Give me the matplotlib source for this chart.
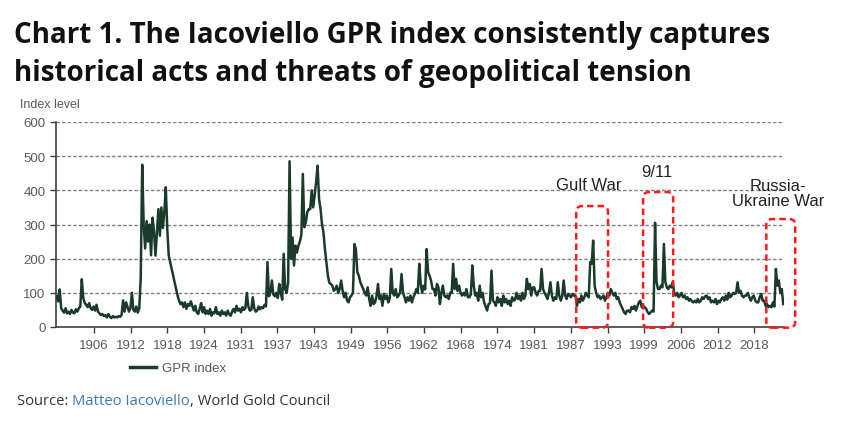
import numpy as np
import matplotlib
matplotlib.use("Agg")
import matplotlib.pyplot as plt
from matplotlib.patches import FancyBboxPatch

# GPR index, quarterly values (1900 Q1 .. 2023 Q2)
gpr_start_year = 1900
gpr_values = [
    90, 75, 110, 55,     # 1900
    48, 42, 55, 40,      # 1901
    45, 38, 50, 42,      # 1902
    40, 52, 45, 55,      # 1903
    60, 140, 85, 70,     # 1904
    65, 58, 70, 55,      # 1905
    50, 60, 48, 65,      # 1906
    45, 40, 35, 38,      # 1907
    32, 35, 28, 38,      # 1908
    30, 26, 32, 28,      # 1909
    30, 28, 32, 30,      # 1910
    35, 78, 45, 72,      # 1911
    60, 45, 55, 100,     # 1912
    50, 45, 60, 42,      # 1913
    55, 145, 475, 300,   # 1914
    230, 310, 250, 300,  # 1915
    210, 320, 280, 209,  # 1916
    277, 345, 267, 350,  # 1917
    290, 336, 409, 287,  # 1918
    209, 190, 170, 150,  # 1919
    131, 111, 92, 77,    # 1920
    67, 72, 58, 72,      # 1921
    53, 67, 62, 75,      # 1922
    62, 48, 62, 43,      # 1923
    38, 53, 70, 43,      # 1924
    58, 38, 48, 38,      # 1925
    53, 33, 43, 40,      # 1926
    58, 38, 43, 33,      # 1927
    48, 38, 43, 33,      # 1928
    48, 38, 33, 45,      # 1929
    53, 43, 62, 48,      # 1930
    53, 43, 58, 50,      # 1931
    55, 100, 60, 48,     # 1932
    50, 87, 55, 45,      # 1933
    48, 60, 52, 58,      # 1934
    55, 65, 60, 190,     # 1935
    90, 100, 136, 95,    # 1936
    90, 100, 85, 126,    # 1937
    100, 80, 214, 110,   # 1938
    100, 130, 485, 200,  # 1939
    262, 180, 238, 218,  # 1940
    238, 250, 270, 448,  # 1941
    292, 306, 336, 345,  # 1942
    345, 400, 350, 385,  # 1943
    424, 472, 375, 346,  # 1944
    300, 277, 228, 190,  # 1945
    150, 129, 126, 121,  # 1946
    106, 111, 121, 100,  # 1947
    111, 136, 106, 87,   # 1948
    100, 77, 72, 87,     # 1949
    92, 100, 243, 228,   # 1950
    160, 150, 131, 121,  # 1951
    111, 100, 92, 116,   # 1952
    82, 62, 92, 67,      # 1953
    72, 90, 126, 82,     # 1954
    92, 62, 97, 82,      # 1955
    92, 72, 85, 170,     # 1956
    100, 92, 111, 87,    # 1957
    92, 100, 155, 100,   # 1958
    87, 72, 87, 77,      # 1959
    92, 72, 87, 97,      # 1960
    111, 100, 185, 126,  # 1961
    100, 121, 110, 228,  # 1962
    160, 150, 136, 111,  # 1963
    111, 92, 126, 116,   # 1964
    67, 100, 121, 92,    # 1965
    87, 92, 82, 100,     # 1966
    100, 185, 111, 141,  # 1967
    106, 121, 100, 92,   # 1968
    100, 92, 111, 87,    # 1969
    87, 95, 180, 121,    # 1970
    92, 100, 77, 121,    # 1971
    87, 100, 72, 60,     # 1972
    48, 67, 70, 165,     # 1973
    77, 72, 62, 87,      # 1974
    72, 82, 62, 92,      # 1975
    72, 82, 67, 77,      # 1976
    62, 87, 77, 80,      # 1977
    100, 82, 92, 77,     # 1978
    100, 82, 92, 141,    # 1979
    111, 126, 92, 116,   # 1980
    116, 100, 92, 106,   # 1981
    106, 170, 111, 100,  # 1982
    92, 82, 100, 131,    # 1983
    92, 77, 87, 82,      # 1984
    131, 92, 77, 90,     # 1985
    136, 92, 82, 97,     # 1986
    92, 87, 97, 92,      # 1987
    92, 62, 82, 72,      # 1988
    92, 77, 87, 100,     # 1989
    92, 87, 190, 185,    # 1990
    253, 121, 100, 87,   # 1991
    92, 82, 87, 92,      # 1992
    77, 87, 100, 92,     # 1993
    111, 100, 92, 100,   # 1994
    82, 87, 72, 62,      # 1995
    53, 43, 38, 48,      # 1996
    48, 43, 58, 53,      # 1997
    62, 48, 60, 72,      # 1998
    77, 58, 62, 58,      # 1999
    53, 43, 38, 43,      # 2000
    48, 45, 305, 131,    # 2001
    111, 111, 121, 116,  # 2002
    243, 131, 116, 111,  # 2003
    121, 116, 131, 100,  # 2004
    92, 100, 87, 92,     # 2005
    100, 87, 92, 82,     # 2006
    87, 77, 82, 75,      # 2007
    72, 77, 72, 82,      # 2008
    72, 77, 87, 82,      # 2009
    90, 92, 82, 87,      # 2010
    72, 77, 72, 82,      # 2011
    67, 77, 72, 82,      # 2012
    87, 77, 92, 80,      # 2013
    100, 87, 92, 100,    # 2014
    97, 100, 131, 100,   # 2015
    106, 92, 87, 92,     # 2016
    92, 100, 87, 77,     # 2017
    87, 92, 77, 72,      # 2018
    72, 87, 97, 77,      # 2019
    77, 62, 67, 58,      # 2020
    62, 58, 72, 60,      # 2021
    170, 121, 136, 100,  # 2022
    111, 67,             # 2023
]

tick_labels = ["1906", "1912", "1918", "1924", "1931", "1937", "1943", "1949",
               "1956", "1962", "1968", "1974", "1981", "1987", "1993", "1999",
               "2006", "2012", "2018"]
y_ticks = [0, 100, 200, 300, 400, 500, 600]

# highlighted events: label, box start, box end, box top
events = ["Gulf War", "9/11", "Russia-\nUkraine War"]
event_x0 = [1988.25, 1999.6, 2020.5]
event_x1 = [1993.65, 2004.7, 2025.4]
event_top = [354, 395, 316]

green = "#1a3b29"
grey_txt = "#595959"

plt.rcParams["font.family"] = ["Liberation Sans", "DejaVu Sans"]

fig = plt.figure(figsize=(8.5, 4.31), dpi=100)
ax = fig.add_axes([56 / 850, 1 - 328 / 431, 728 / 850, 205 / 431])

dates = gpr_start_year + 0.125 + np.arange(len(gpr_values)) * 0.25
ax.plot(dates, gpr_values, color=green, lw=1.8, label="GPR index", zorder=3)

ax.set_xlim(1900, 2023.5)
ax.set_ylim(0, 600)
ax.set_yticks(y_ticks)
ax.set_xticks(np.linspace(1906.45, 2018.45, len(tick_labels)))
ax.set_xticklabels(tick_labels)
ax.tick_params(axis="both", labelsize=9.5, labelcolor=grey_txt, color="#404040",
               length=4, width=1)
ax.tick_params(axis="x", pad=5)
ax.yaxis.grid(True, color="#808080", linestyle=(0, (2.5, 1.5)), lw=1)
ax.set_axisbelow(True)
for s in ["top", "right"]:
    ax.spines[s].set_visible(False)
for s in ["left", "bottom"]:
    ax.spines[s].set_color("#404040")
    ax.spines[s].set_linewidth(1.2)

# red dashed boxes around the events
for label, x0, x1, top in zip(events, event_x0, event_x1, event_top):
    box = FancyBboxPatch((x0, -2), x1 - x0, top + 2,
                         boxstyle="round,pad=0,rounding_size=1.0",
                         mutation_aspect=17.5, fill=False, edgecolor="#ff1a1a",
                         lw=1.8, linestyle=(0, (2.6, 1.6)), clip_on=False, zorder=4)
    ax.add_patch(box)

ax.text(1990.45, 418, "Gulf War", ha="center", va="center", fontsize=12, color="#222222")
ax.text(2001.95, 456, "9/11", ha="center", va="center", fontsize=12, color="#222222")
ax.text(2022.5, 393, "Russia-\nUkraine War", ha="center", va="center", fontsize=12,
        color="#222222", linespacing=1.0)

fig.text(20 / 850, 1 - 105 / 431, "Index level", fontsize=9, color=grey_txt,
         ha="left", va="center")

# titles
fig.text(14 / 850, 1 - 36 / 431, "Chart 1. The Iacoviello GPR index consistently captures",
         fontsize=20, fontweight="bold", family="Open Sans", color="#111111",
         ha="left", va="center")
fig.text(14 / 850, 1 - 73 / 431, "historical acts and threats of geopolitical tension",
         fontsize=20, fontweight="bold", family="Open Sans", color="#111111",
         ha="left", va="center")

fig.legend(loc="center", bbox_to_anchor=(178 / 850, 1 - 369 / 431), frameon=False,
           fontsize=9.5, labelcolor=grey_txt, handlelength=2.0, handletextpad=0.4,
           borderpad=0, borderaxespad=0)
for h in fig.legends[0].get_lines():
    h.set_linewidth(2.5)

# source line, three colours
renderer = fig.canvas.get_renderer()
x = 17 / 850
for part, col in [("Source: ", "#333333"), ("Matteo Iacoviello", "#3d78b5"),
                  (", World Gold Council", "#333333")]:
    t = fig.text(x, 1 - 402 / 431, part, fontsize=10.6, family="Open Sans", color=col,
                 ha="left", va="center")
    bb = t.get_window_extent(renderer)
    x = bb.x1 / fig.bbox.width

fig.savefig("out.png", dpi=100)
